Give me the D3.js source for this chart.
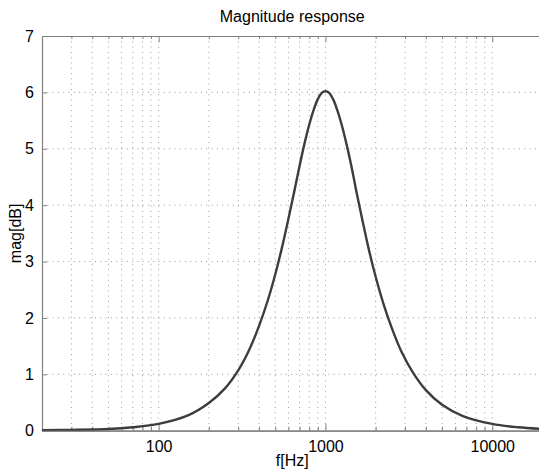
<!DOCTYPE html>
<html>
<head>
<meta charset="utf-8">
<script src="https://cdn.jsdelivr.net/npm/d3@7"></script>
<style>
  html, body { margin: 0; padding: 0; background: #fff; }
  svg { display: block; }
  text { font-family: "Liberation Sans", Arial, Helvetica, sans-serif; fill: #000; }
</style>
</head>
<body>
<svg id="chart" width="539" height="469"></svg>
<script>
// ---- data ----
const freqHz = [20, 30, 50, 70, 100, 150, 200, 250, 300, 350, 400, 450, 500, 550, 600, 650, 700, 750, 800, 850, 900, 950, 1000,
                1053, 1111, 1176, 1250, 1333, 1429, 1538, 1667, 1818, 2000, 2222, 2500, 2857, 3333, 4000, 5000, 6667, 10000, 14286, 20000];
const magDb  = [0.01, 0.015, 0.03, 0.06, 0.12, 0.27, 0.49, 0.75, 1.07, 1.44, 1.86, 2.30, 2.77, 3.26, 3.76, 4.24, 4.70, 5.10, 5.43, 5.69, 5.88, 5.99, 6.02,
                5.99, 5.88, 5.69, 5.43, 5.10, 4.70, 4.22, 3.73, 3.22, 2.73, 2.26, 1.82, 1.40, 1.04, 0.72, 0.46, 0.26, 0.12, 0.06, 0.03];
const xMajorTicks = [100, 1000, 10000];
const xTickLabels = ["100", "1000", "10000"];
const xMinorTicks = [30, 40, 50, 60, 70, 80, 90, 200, 300, 400, 500, 600, 700, 800, 900, 2000, 3000, 4000, 5000, 6000, 7000, 8000, 9000];
const yTicks = [0, 1, 2, 3, 4, 5, 6, 7];
const titleText = "Magnitude response";
const xLabelText = "f[Hz]";
const yLabelText = "mag[dB]";

(function () {
// ---- layout ----
const pLeft = 42, pRight = 542.5, pTop = 36, pBottom = 430.7;
const svg = d3.select("#chart");

const x = d3.scaleLog().domain([20, 20000]).range([pLeft, pRight]);
const y = d3.scaleLinear().domain([0, 7]).range([pBottom, pTop]);

const gridColor = "#9a9a9a";
const axisColor = "#808080";

// grid
const grid = svg.append("g");
grid.selectAll("line.vg").data(xMajorTicks.concat(xMinorTicks)).join("line")
  .attr("x1", d => x(d)).attr("x2", d => x(d))
  .attr("y1", pTop).attr("y2", pBottom)
  .attr("stroke", gridColor).attr("stroke-width", 1)
  .attr("stroke-dasharray", "1 4.3");
grid.selectAll("line.hg").data(yTicks.filter(d => d > 0 && d < 7)).join("line")
  .attr("x1", pLeft).attr("x2", pRight)
  .attr("y1", d => y(d)).attr("y2", d => y(d))
  .attr("stroke", gridColor).attr("stroke-width", 1)
  .attr("stroke-dasharray", "1 4.3");

// axes
const xBottom = d3.axisBottom(x).tickValues(xMajorTicks).tickFormat((d, i) => xTickLabels[i]).tickSizeInner(-7).tickSizeOuter(0).tickPadding(10);
const gxb = svg.append("g").attr("transform", `translate(0,${pBottom})`).call(xBottom);
const xBottomMinor = d3.axisBottom(x).tickValues(xMinorTicks).tickFormat("").tickSizeInner(-4).tickSizeOuter(0);
const gxbm = svg.append("g").attr("transform", `translate(0,${pBottom})`).call(xBottomMinor);

const xTop = d3.axisTop(x).tickValues(xMajorTicks).tickFormat("").tickSizeInner(-6).tickSizeOuter(0);
const gxt = svg.append("g").attr("transform", `translate(0,${pTop})`).call(xTop);
const xTopMinor = d3.axisTop(x).tickValues(xMinorTicks).tickFormat("").tickSizeInner(-3).tickSizeOuter(0);
const gxtm = svg.append("g").attr("transform", `translate(0,${pTop})`).call(xTopMinor);

const yLeft = d3.axisLeft(y).tickValues(yTicks).tickFormat(d3.format("d")).tickSizeInner(-5).tickSizeOuter(0).tickPadding(8);
const gyl = svg.append("g").attr("transform", `translate(${pLeft},0)`).call(yLeft);

[gxb, gxbm, gxt, gxtm, gyl].forEach(g => {
  g.select(".domain").attr("stroke", axisColor).attr("stroke-width", 1.2);
  g.selectAll(".tick line").attr("stroke", axisColor).attr("stroke-width", 1);
  g.selectAll(".tick text").attr("font-size", 16).attr("fill", "#000")
    .attr("font-family", "'Liberation Sans', Arial, Helvetica, sans-serif");
});

// curve
svg.append("clipPath").attr("id", "clip").append("rect")
  .attr("x", pLeft).attr("y", pTop).attr("width", pRight - pLeft).attr("height", pBottom - pTop);

const pts = freqHz.map((f, i) => [f, magDb[i]]);
const line = d3.line().x(d => x(d[0])).y(d => y(d[1])).curve(d3.curveCatmullRom.alpha(0.5));
svg.append("path").datum(pts)
  .attr("clip-path", "url(#clip)")
  .attr("fill", "none").attr("stroke", "#3d3d3d").attr("stroke-width", 2.4)
  .attr("stroke-linejoin", "round").attr("d", line);

// labels
svg.append("text").attr("x", (pLeft + pRight) / 2).attr("y", 22)
  .attr("text-anchor", "middle").attr("font-size", 16).text(titleText);
svg.append("text").attr("x", (pLeft + pRight) / 2).attr("y", 466)
  .attr("text-anchor", "middle").attr("font-size", 16).text(xLabelText);
svg.append("text").attr("transform", `translate(21,${(pTop + pBottom) / 2}) rotate(-90)`)
  .attr("text-anchor", "middle").attr("font-size", 16).text(yLabelText);
})();
</script>
</body>
</html>
